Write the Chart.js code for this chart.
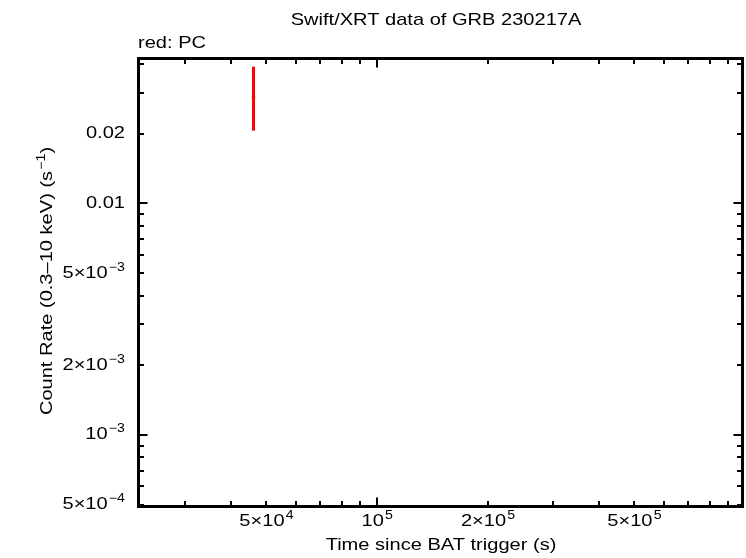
<!DOCTYPE html>
<html>
<head>
<meta charset="utf-8">
<script src="https://cdn.jsdelivr.net/npm/chart.js@4/dist/chart.umd.min.js"></script>
<style>
  html, body { margin: 0; padding: 0; background: #fff; }
  canvas { display: block; }
</style>
</head>
<body>
<canvas id="grafico" width="746" height="558"></canvas>
<script>
// PC mode light curve point (time in s, rate in counts/s)
const tiempos = [46100];
const tiempoErrNeg = [500];
const tiempoErrPos = [500];
const tasas = [0.0287];
const tasaBaja = [0.0206];
const tasaAlta = [0.0389];

// axis ranges and labelled ticks
const X_MIN = 22450, X_MAX = 983000;
const Y_MIN = 4.91e-4, Y_MAX = 0.0422;
const xTickValores = [5e4, 1e5, 2e5, 5e5];
const xTickTextos = [['5×10', '4'], ['10', '5'], ['2×10', '5'], ['5×10', '5']];
const yTickValores = [5e-4, 1e-3, 2e-3, 5e-3, 0.01, 0.02];
const yTickTextos = [['5×10', '−4'], ['10', '−3'], ['2×10', '−3'], ['5×10', '−3'], ['0.01', ''], ['0.02', '']];

const FUENTE = '"Liberation Sans", Arial, Helvetica, sans-serif';
const TAM = 17;
const TAM_SUP = 12;
const ESTIRA = 1.18;
const SUBE_SUP = 3;

// all n x 10^k ticks inside a range
function ticksLog(min, max) {
  const out = [];
  for (let k = Math.floor(Math.log10(min)); k <= Math.ceil(Math.log10(max)); k++) {
    for (let n = 1; n <= 9; n++) {
      const v = n * Math.pow(10, k);
      if (v >= min && v <= max) out.push({ v, mayor: n === 1 });
    }
  }
  return out;
}

// segments: [[text, isSup], ...]
function textoRico(ctx, segs, x, y, align) {
  const anchos = segs.map(([t, sup]) => {
    ctx.font = `${sup ? TAM_SUP : TAM}px ${FUENTE}`;
    return ctx.measureText(t).width + (sup ? 1 : 0);
  });
  const total = anchos.reduce((a, b) => a + b, 0) * ESTIRA;
  let x0 = x;
  if (align === 'center') x0 = x - total / 2;
  else if (align === 'right') x0 = x - total;
  ctx.save();
  ctx.translate(x0, y);
  ctx.scale(ESTIRA, 1);
  ctx.textAlign = 'left';
  ctx.textBaseline = 'alphabetic';
  ctx.fillStyle = '#000';
  let cx = 0;
  segs.forEach(([t, sup], i) => {
    ctx.font = `${sup ? TAM_SUP : TAM}px ${FUENTE}`;
    ctx.fillText(t, cx + (sup ? 1 : 0), sup ? -SUBE_SUP - 4 : 0);
    cx += anchos[i];
  });
  ctx.restore();
}

function segsDe([base, exp]) {
  return exp ? [[base, false], [exp, true]] : [[base, false]];
}

const marcoPlugin = {
  id: 'marco',
  afterDraw(chart) {
    const ctx = chart.ctx;
    const { left, right, top, bottom } = chart.chartArea;
    const xs = chart.scales.x;
    const ys = chart.scales.y;

    // error bars
    ctx.save();
    ctx.strokeStyle = '#ff0000';
    tiempos.forEach((t, i) => {
      const px = xs.getPixelForValue(t);
      ctx.lineWidth = 3;
      ctx.beginPath();
      ctx.moveTo(px, ys.getPixelForValue(tasaAlta[i]));
      ctx.lineTo(px, ys.getPixelForValue(tasaBaja[i]));
      ctx.stroke();
      const py = ys.getPixelForValue(tasas[i]);
      ctx.lineWidth = 2;
      ctx.beginPath();
      ctx.moveTo(xs.getPixelForValue(t - tiempoErrNeg[i]), py);
      ctx.lineTo(xs.getPixelForValue(t + tiempoErrPos[i]), py);
      ctx.stroke();
    });
    ctx.restore();

    // inward ticks on all sides
    ctx.save();
    ctx.strokeStyle = '#000';
    ctx.lineWidth = 2;
    ticksLog(X_MIN, X_MAX).forEach(({ v, mayor }) => {
      const px = Math.round(xs.getPixelForValue(v));
      const len = mayor ? 9 : 5.5;
      ctx.beginPath();
      ctx.moveTo(px, bottom); ctx.lineTo(px, bottom - len);
      ctx.moveTo(px, top); ctx.lineTo(px, top + len);
      ctx.stroke();
    });
    ticksLog(Y_MIN, Y_MAX).forEach(({ v, mayor }) => {
      const py = Math.round(ys.getPixelForValue(v));
      const len = mayor ? 9 : 5.5;
      ctx.beginPath();
      ctx.moveTo(left, py); ctx.lineTo(left + len, py);
      ctx.moveTo(right, py); ctx.lineTo(right - len, py);
      ctx.stroke();
    });
    ctx.lineWidth = 3;
    ctx.strokeRect(left, top, right - left, bottom - top);
    ctx.restore();

    // tick labels
    xTickValores.forEach((v, i) => {
      textoRico(ctx, segsDe(xTickTextos[i]), xs.getPixelForValue(v), 526, 'center');
    });
    yTickValores.forEach((v, i) => {
      textoRico(ctx, segsDe(yTickTextos[i]), 125, ys.getPixelForValue(v) + 4.5, 'right');
    });

    // titles
    textoRico(ctx, [['Swift/XRT data of GRB 230217A', false]], 436, 25, 'center');
    textoRico(ctx, [['red: PC', false]], 138, 48, 'left');
    textoRico(ctx, [['Time since BAT trigger (s)', false]], 441, 550, 'center');
    ctx.save();
    ctx.translate(52, 281);
    ctx.rotate(-Math.PI / 2);
    textoRico(ctx, [['Count Rate (0.3–10 keV) (s', false], ['−1', true], [')', false]], 0, 0, 'center');
    ctx.restore();
  }
};

new Chart(document.getElementById('grafico').getContext('2d'), {
  type: 'scatter',
  data: {
    datasets: [{
      data: tiempos.map((t, i) => ({ x: t, y: tasas[i] })),
      pointRadius: 0,
      showLine: false
    }]
  },
  options: {
    responsive: false,
    devicePixelRatio: 1,
    animation: false,
    layout: { padding: { left: 138.5, top: 58.5, right: 3.5, bottom: 51.5 } },
    plugins: { legend: { display: false }, tooltip: { enabled: false } },
    scales: {
      x: { type: 'logarithmic', min: X_MIN, max: X_MAX, display: false },
      y: { type: 'logarithmic', min: Y_MIN, max: Y_MAX, display: false }
    }
  },
  plugins: [marcoPlugin]
});
</script>
</body>
</html>
